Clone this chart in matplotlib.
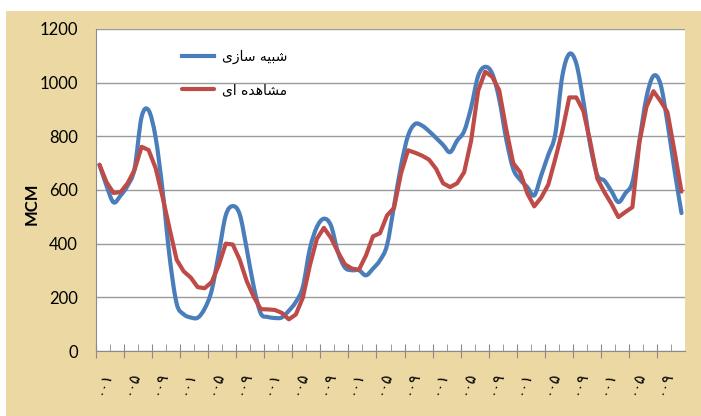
import matplotlib.pyplot as plt
from matplotlib.path import Path
from matplotlib.patches import PathPatch

# monthly values (MCM), 7 years x 12 months
simulated = [694, 616, 554, 579, 616, 680, 872, 897, 796, 598, 350, 177,
             137, 125, 124, 158, 226, 363, 505, 540, 509, 380, 239, 140,
             127, 123, 125, 150, 183, 239, 381, 462, 493, 468, 369, 311,
             301, 301, 282, 307, 338, 394, 540, 690, 802, 846, 840, 819,
             794, 768, 741, 784, 819, 908, 1025, 1059, 1034, 939, 790, 679,
             638, 611, 580, 655, 731, 809, 1024, 1107, 1071, 932, 765, 655,
             635, 596, 555, 588, 629, 784, 945, 1025, 995, 850, 675, 514]
observed = [694, 629, 589, 592, 625, 675, 761, 749, 682, 573, 455, 340,
            297, 274, 238, 234, 257, 319, 400, 397, 340, 260, 202, 156,
            155, 153, 142, 118, 136, 199, 319, 418, 459, 422, 369, 323,
            307, 303, 356, 427, 439, 505, 533, 662, 748, 739, 728, 713,
            679, 625, 611, 625, 666, 784, 970, 1041, 1022, 972, 827, 700,
            666, 588, 539, 572, 620, 716, 819, 945, 945, 895, 778, 642,
            592, 549, 499, 518, 536, 778, 910, 968, 932, 890, 745, 594]
month_labels = ['۰۰۱', '۰۰۵', '۰۰۹'] * 7

# legend text, shaped by hand (presentation forms, visual order)
lbl_sim = '\ufeef\ufeaf\ufe8e\ufeb3 \ufeea\ufef4\ufe92\ufeb7'   # شبیه سازی
lbl_obs = '\ufeef\ufe8d \ufee9\ufeaa\ufeeb\ufe8e\ufeb8\ufee3'   # مشاهده ای

blue = '#4a7ebb'
red = '#be4b48'
x = list(range(len(simulated)))
n = len(x)


def smooth_path(xs, ys):
    # Excel-like smoothed line: cubic bezier through every point
    verts = [(xs[0], ys[0])]
    codes = [Path.MOVETO]
    for i in range(n - 1):
        p0 = max(i - 1, 0)
        p3 = min(i + 2, n - 1)
        c1 = (xs[i] + (xs[i + 1] - xs[p0]) / 6, ys[i] + (ys[i + 1] - ys[p0]) / 6)
        c2 = (xs[i + 1] - (xs[p3] - xs[i]) / 6, ys[i + 1] - (ys[p3] - ys[i]) / 6)
        verts += [c1, c2, (xs[i + 1], ys[i + 1])]
        codes += [Path.CURVE4] * 3
    return Path(verts, codes)


fig = plt.figure(figsize=(7.01, 4.16), dpi=100, facecolor='white')
bg = fig.add_axes([6/701, 0, 695/701, 405/416], zorder=-10)
bg.set_facecolor('#ecd8a2')
bg.set_xticks([])
bg.set_yticks([])
for s in bg.spines.values():
    s.set_visible(False)

ax = fig.add_axes([96/701, 65/416, 589/701, 322/416])
ax.set_facecolor('white')

ax.add_patch(PathPatch(smooth_path(x, simulated), facecolor='none', edgecolor=blue,
                       lw=3, joinstyle='round', capstyle='round', zorder=3))
ax.plot([], [], color=blue, lw=3, label=lbl_sim)
ax.plot(x, observed, color=red, lw=3, solid_joinstyle='round',
        solid_capstyle='round', label=lbl_obs, zorder=3)

ax.set_ylim(0, 1200)
ax.set_yticks(range(0, 1201, 200))
ax.grid(axis='y', color='#9a9a9a', lw=1)
ax.set_axisbelow(True)
ax.tick_params(axis='y', length=0, pad=13, labelsize=12)
for t in ax.get_yticklabels():
    t.set_family('Lato')
ax.set_ylabel('MCM', fontsize=12, fontweight='bold', family='Lato')
ax.yaxis.set_label_coords(-0.095, 0.456)

ax.set_xlim(-0.5, n - 0.5)
ax.set_xticks([b - 0.5 for b in range(0, n, 4)])
ax.set_xticks([b - 0.5 for b in range(2, n, 4)], minor=True)
ax.tick_params(axis='x', which='major', direction='inout', length=10,
               color='#8a8a8a', labelbottom=False)
ax.tick_params(axis='x', which='minor', direction='in', length=5, color='#8a8a8a')

sec = ax.secondary_xaxis('bottom')
sec.set_xticks(range(0, n, 4), month_labels)
sec.tick_params(length=0, pad=13, labelsize=11)
sec.spines['bottom'].set_visible(False)
for t in sec.get_xticklabels():
    t.set_rotation(72)
    t.set_ha('right')
    t.set_va('top')
    t.set_rotation_mode('anchor')
    t.set_family('DejaVu Sans')

for s in ['top', 'right']:
    ax.spines[s].set_visible(False)
for s in ['left', 'bottom']:
    ax.spines[s].set_color('#8a8a8a')

ax.legend(loc='upper left', bbox_to_anchor=(0.146, 0.935), frameon=False,
          fontsize=10, handlelength=2.3, handletextpad=0.6, labelspacing=1.35,
          borderpad=0, borderaxespad=0)

fig.savefig('out.png', dpi=100, facecolor='white')
